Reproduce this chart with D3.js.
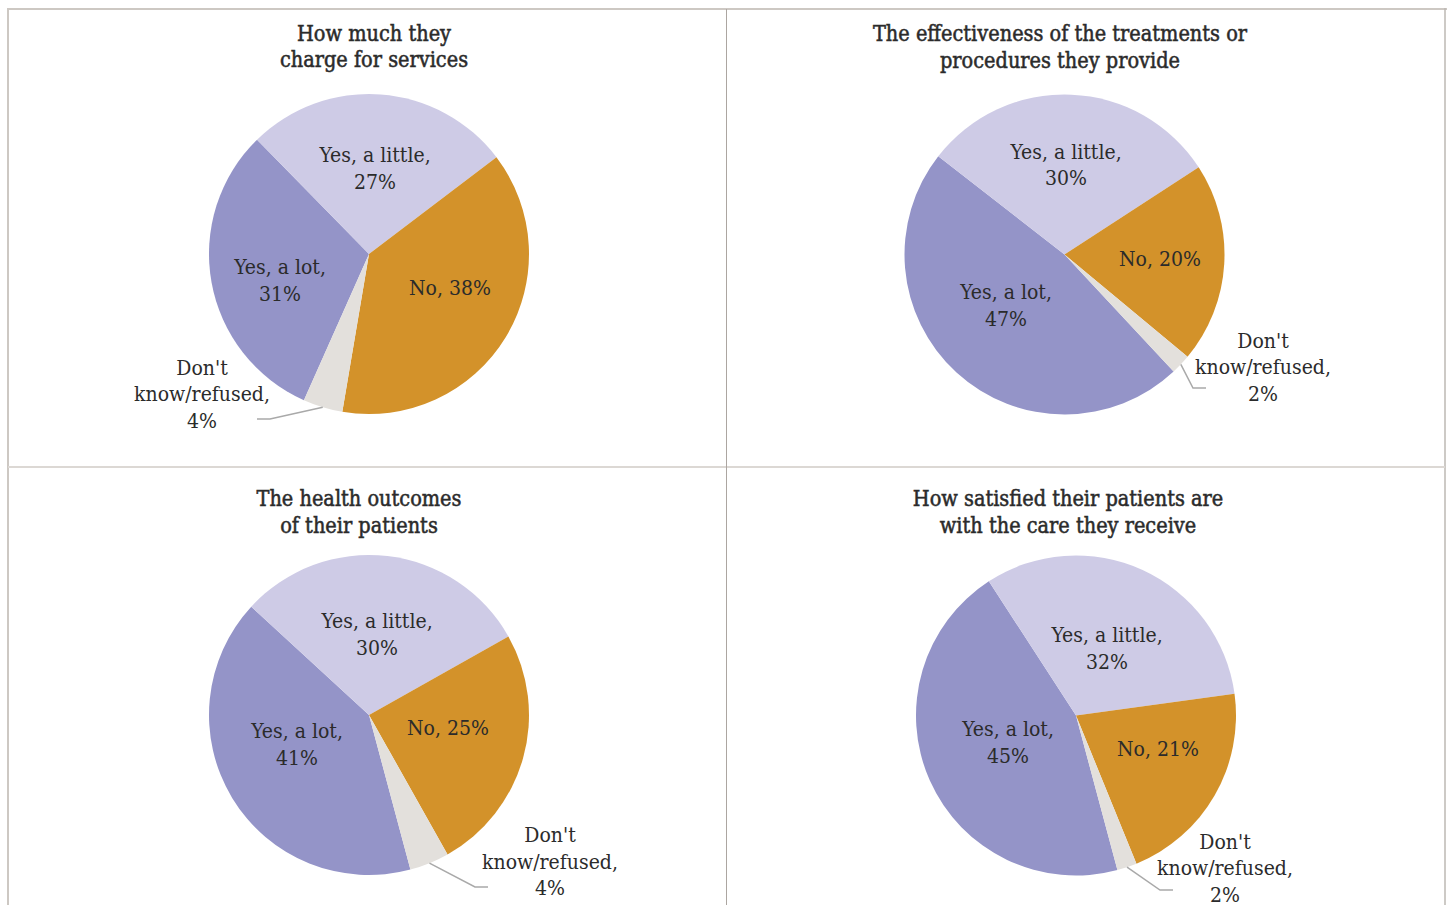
<!DOCTYPE html>
<html>
<head>
<meta charset="utf-8">
<script src="https://cdn.jsdelivr.net/npm/d3@7"></script>
<style>
  html, body { margin: 0; padding: 0; background: #ffffff; }
  svg { display: block; }
  text { font-family: "DejaVu Serif Condensed", "DejaVu Serif", serif; fill: #2b2b2b; }
</style>
</head>
<body>
<svg id="chart" width="1447" height="905"></svg>
<script>
// Slice categories, in drawing order (clockwise)
const categories = ["Yes, a lot", "Yes, a little", "No", "Don't know/refused"];

// Panel titles (two lines each)
const titles = [
  ["How much they", "charge for services"],
  ["The effectiveness of the treatments or", "procedures they provide"],
  ["The health outcomes", "of their patients"],
  ["How satisfied their patients are", "with the care they receive"]
];

// Percent shares per question, same order as categories
const chargeValues        = [31, 27, 38, 4];
const effectivenessValues = [47, 30, 20, 2];
const outcomesValues      = [41, 30, 25, 4];
const satisfactionValues  = [45, 32, 21, 2];

const seriesValues = [chargeValues, effectivenessValues, outcomesValues, satisfactionValues];

// Visual styling
const colors = ["#9494c8", "#cecbe6", "#d3922a", "#e3e0dc"];

// Panel layout: pie centre, rotation of first slice, title position,
// label anchors (offsets from pie centre) and leader elbow (offset from label)
const panels = [
  { cx: 369,  cy: 254,   start: 204, tx: 374,  ty: 33,
    labels: [[-89, 26], [6, -86], [81, 34], [-167, 140]], elbow: [68, 25], dir: -1 },
  { cx: 1064.5, cy: 254.5, start: 137, tx: 1060, ty: 33.5,
    labels: [[-58.5, 50.5], [1.5, -90], [95.5, 4.5], [198.5, 112.5]], elbow: [-70, 21], dir: 1 },
  { cx: 369,  cy: 715,   start: 165, tx: 359,  ty: 498.5,
    labels: [[-72, 29], [8, -81], [79, 13], [181, 146.5]], elbow: [-75, 25.5], dir: 1 },
  { cx: 1076, cy: 715.5, start: 165, tx: 1068, ty: 498.5,
    labels: [[-68, 26.5], [31, -67.5], [82, 33.5], [149, 152.5]], elbow: [-65, 22], dir: 1 }
];

const radius = 160;
const lineH = 26.5;
const labelSize = 21;
const titleSize = 21.5;

const svg = d3.select("#chart");

// Panel frame lines
const frame = svg.append("g");
frame.append("line").attr("x1", 8).attr("x2", 1447).attr("y1", 9).attr("y2", 9)
  .attr("stroke", "#cdc8c3").attr("stroke-width", 2);
frame.append("line").attr("x1", 8).attr("x2", 8).attr("y1", 8).attr("y2", 905)
  .attr("stroke", "#cdc8c3").attr("stroke-width", 2);
frame.append("line").attr("x1", 1445).attr("x2", 1445).attr("y1", 8).attr("y2", 905)
  .attr("stroke", "#bdb8b3").attr("stroke-width", 1.5);
frame.append("line").attr("x1", 8).attr("x2", 1445).attr("y1", 467).attr("y2", 467)
  .attr("stroke", "#dcd8d4").attr("stroke-width", 2);
frame.append("line").attr("x1", 726.5).attr("x2", 726.5).attr("y1", 9).attr("y2", 905)
  .attr("stroke", "#aca6a1").attr("stroke-width", 1);

const arc = d3.arc().innerRadius(0).outerRadius(radius);
const toRad = d => d * Math.PI / 180;

panels.forEach((p, i) => {
  const values = seriesValues[i];
  const data = categories.map((c, k) => ({ category: c, value: values[k] }));

  const pie = d3.pie()
    .value(d => d.value)
    .sort(null)
    .startAngle(toRad(p.start))
    .endAngle(toRad(p.start) + 2 * Math.PI);

  const arcs = pie(data);
  const g = svg.append("g").attr("transform", `translate(${p.cx},${p.cy})`);

  // Slices
  g.selectAll("path.slice")
    .data(arcs)
    .join("path")
    .attr("class", "slice")
    .attr("d", arc)
    .attr("fill", (d, k) => colors[k]);

  // Title
  const title = svg.append("text")
    .attr("x", p.tx)
    .attr("y", p.ty)
    .attr("text-anchor", "middle")
    .attr("font-size", titleSize)
    .attr("stroke", "#2b2b2b")
    .attr("stroke-width", 0.5);
  titles[i].forEach((line, j) => {
    title.append("tspan")
      .attr("x", p.tx)
      .attr("y", p.ty + j * lineH)
      .attr("dy", "0.35em")
      .text(line);
  });

  // Slice labels
  arcs.forEach((a, k) => {
    const [ox, oy] = p.labels[k];
    const pct = a.data.value + "%";
    let lines;
    if (k === 2) lines = ["No, " + pct];
    else if (k === 3) lines = ["Don't", "know/refused,", pct];
    else lines = [a.data.category + ",", pct];
    const top = oy - (lines.length - 1) * lineH / 2;
    const t = g.append("text")
      .attr("text-anchor", "middle")
      .attr("font-size", labelSize);
    lines.forEach((line, j) => {
      t.append("tspan")
        .attr("x", ox)
        .attr("y", top + j * lineH)
        .attr("dy", "0.35em")
        .text(line);
    });
  });

  // Leader line for the small slice
  const small = arcs[3];
  const mid = (small.startAngle + small.endAngle) / 2;
  const sx = radius * Math.sin(mid), sy = -radius * Math.cos(mid);
  const [lx, ly] = p.labels[3];
  const ex = lx + p.elbow[0], ey = ly + p.elbow[1];
  g.append("path")
    .attr("d", d3.line()([[sx, sy], [ex, ey], [ex + 13 * p.dir, ey]]))
    .attr("fill", "none")
    .attr("stroke", "#a9a9a9")
    .attr("stroke-width", 1.5);
});
</script>
</body>
</html>
